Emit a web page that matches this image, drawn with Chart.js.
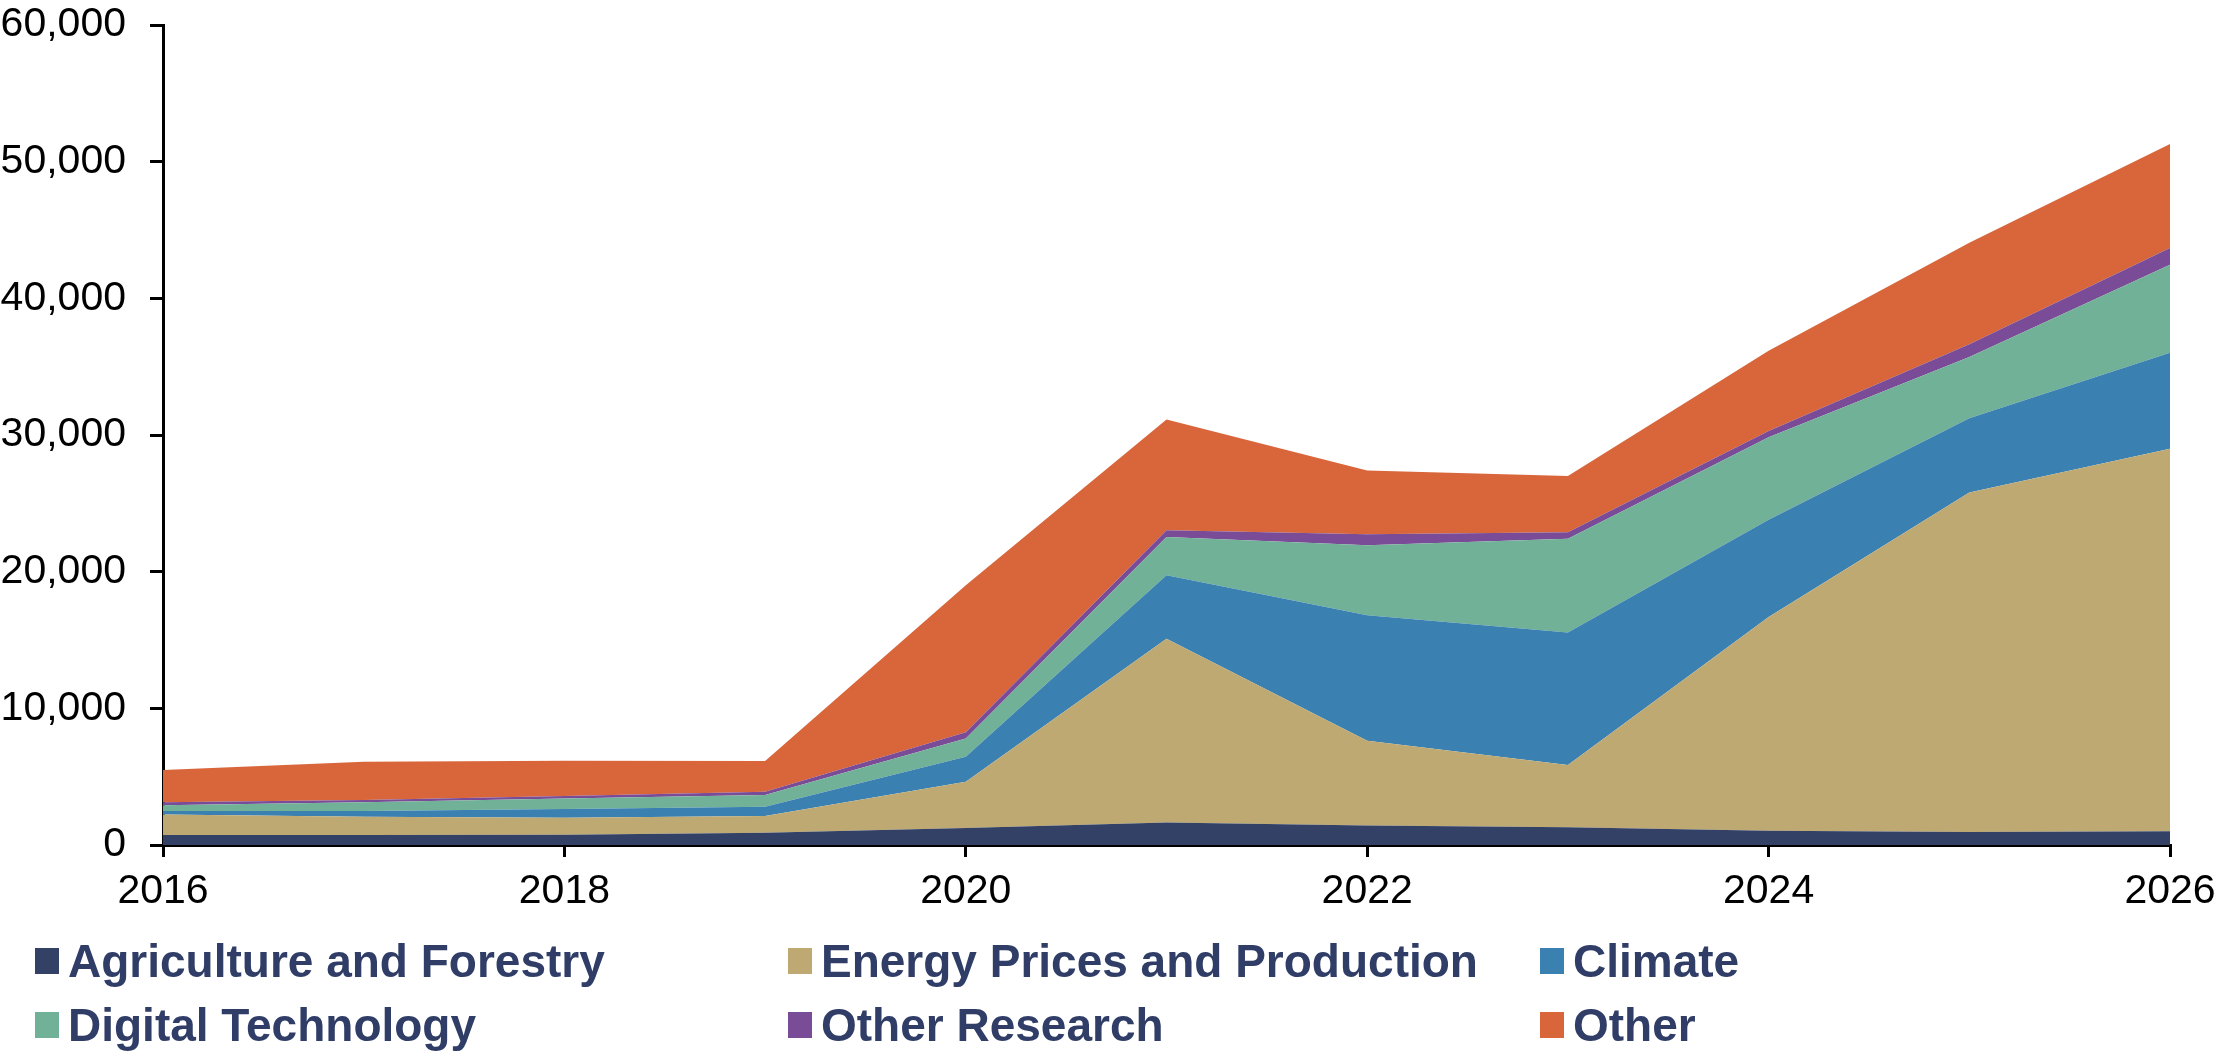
<!DOCTYPE html>
<html>
<head>
<meta charset="utf-8">
<script src="https://cdn.jsdelivr.net/npm/chart.js@4.4.1/dist/chart.umd.min.js"></script>
<style>
  html, body { margin: 0; padding: 0; background: #fff; }
  #wrap { position: relative; width: 2222px; height: 1062px; }
  #legend { position: absolute; left: 0; top: 0; width: 2222px; height: 1062px; pointer-events: none; }
  .item { position: absolute; display: flex; align-items: center; font-family: "Liberation Sans", Arial, sans-serif; font-weight: bold; font-size: 46px; color: #2f3d67; white-space: nowrap; }
  .box { width: 24px; height: 26px; margin-right: 9px; }
</style>
</head>
<body>
<div id="wrap">
  <canvas id="chart" width="2222" height="1062"></canvas>
  <div id="legend"></div>
</div>
<script>
var years = [2016, 2017, 2018, 2019, 2020, 2021, 2022, 2023, 2024, 2025, 2026];
var agriculture   = [730, 730, 750, 900, 1250, 1650, 1420, 1290, 1050, 950, 1000];
var energy        = [1510, 1340, 1250, 1220, 3380, 13450, 6210, 4560, 15640, 24850, 28000];
var climate       = [250, 420, 630, 680, 1830, 4640, 9180, 9700, 7110, 5430, 7020];
var digital       = [410, 630, 780, 850, 1340, 2800, 5120, 6860, 6030, 4480, 6430];
var otherResearch = [220, 170, 170, 250, 450, 490, 800, 470, 470, 930, 1230];
var other         = [2360, 2810, 2590, 2240, 10750, 8110, 4680, 4120, 5870, 7420, 7620];

var seriesNames = ['Agriculture and Forestry', 'Energy Prices and Production', 'Climate', 'Digital Technology', 'Other Research', 'Other'];
var seriesData = [agriculture, energy, climate, digital, otherResearch, other];
var seriesColors = ['#334166', '#bfa972', '#3a80b1', '#71b197', '#7a4b96', '#d8663a'];

var toPoints = function(vals){
  return vals.map(function(v, i){ return {x: years[i], y: v}; });
};

var datasets = [];
for (var i = 0; i < seriesNames.length; i++) {
  datasets.push({
    label: seriesNames[i],
    data: toPoints(seriesData[i]),
    backgroundColor: seriesColors[i],
    borderColor: seriesColors[i],
    borderWidth: 0,
    pointRadius: 0,
    tension: 0,
    fill: i === 0 ? 'origin' : '-1'
  });
}

var tickFont = {family: '"Liberation Sans", Arial, sans-serif', size: 41};

var chart = new Chart(document.getElementById('chart').getContext('2d'), {
  type: 'line',
  data: {datasets: datasets},
  options: {
    responsive: false,
    animation: false,
    devicePixelRatio: 1,
    layout: {padding: {left: 0, top: 25, right: 52, bottom: 142}},
    plugins: {legend: {display: false}, tooltip: {enabled: false}},
    scales: {
      x: {
        type: 'linear',
        min: 2016,
        max: 2026,
        afterFit: function(s){ s.height = 75; s.paddingLeft = 0; s.paddingRight = 0; },
        border: {color: '#000', width: 3},
        grid: {drawOnChartArea: false, drawTicks: true, tickLength: 12, color: '#000', lineWidth: 3},
        ticks: {stepSize: 2, color: '#000', font: tickFont, padding: 10, maxRotation: 0,
          callback: function(v){ return String(v); }}
      },
      y: {
        stacked: true,
        min: 0,
        max: 60000,
        afterFit: function(s){ s.width = 163; s.paddingTop = 0; s.paddingBottom = 0; },
        border: {color: '#000', width: 3},
        grid: {drawOnChartArea: false, drawTicks: true, tickLength: 13, color: '#000', lineWidth: 3},
        ticks: {stepSize: 10000, color: '#000', font: tickFont, padding: 24,
          callback: function(v){ return v.toLocaleString('en-US'); }}
      }
    }
  }
});

// legend in three columns, two rows
var legendPos = [[35, 961], [788, 961], [1540, 961], [35, 1025], [788, 1025], [1540, 1025]];
var legendEl = document.getElementById('legend');
chart.data.datasets.forEach(function(ds, i){
  var item = document.createElement('div');
  item.className = 'item';
  item.style.left = legendPos[i][0] + 'px';
  item.style.top = (legendPos[i][1] - 27) + 'px';
  item.style.height = '54px';
  var box = document.createElement('span');
  box.className = 'box';
  box.style.background = ds.backgroundColor;
  var txt = document.createElement('span');
  txt.textContent = ds.label;
  item.appendChild(box);
  item.appendChild(txt);
  legendEl.appendChild(item);
});
</script>
</body>
</html>
